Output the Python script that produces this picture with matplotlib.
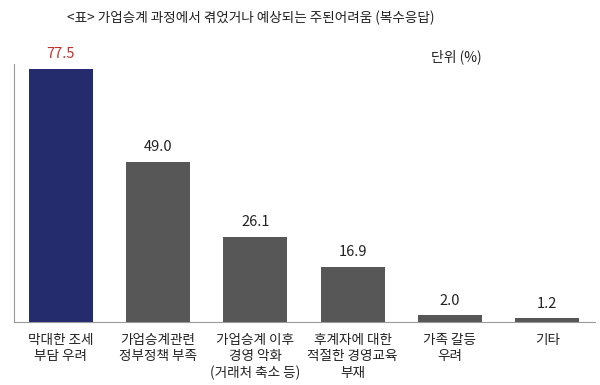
import matplotlib
matplotlib.use('Agg')
import matplotlib.pyplot as plt

plt.rcParams['font.family'] = ['Noto Sans CJK KR', 'DejaVu Sans']

# 데이터
categories = ['막대한 조세\n부담 우려', '가업승계관련\n정부정책 부족', '가업승계 이후\n경영 악화\n(거래처 축소 등)',
              '후계자에 대한\n적절한 경영교육\n부재', '가족 갈등\n우려', '기타']
values = [77.5, 49.0, 26.1, 16.9, 2.0, 1.2]
bar_colors = ['#252c6d', '#575757', '#575757', '#575757', '#575757', '#575757']
label_colors = ['#c4302b', '#222222', '#222222', '#222222', '#222222', '#222222']

fig = plt.figure(figsize=(6, 3.85), dpi=100)
ax = fig.add_axes([14/600, 1 - 322/385, (595 - 14)/600, (322 - 64)/385])

x = range(len(values))
ax.bar(x, values, width=0.66, color=bar_colors)

for i, v in enumerate(values):
    ax.text(i, v + 2.3, f'{v:.1f}', ha='center', va='bottom', fontsize=10.5, color=label_colors[i])

ax.set_xlim(-0.48, 5.49)
ax.set_ylim(0, 79)
ax.set_xticks(list(x))
ax.set_xticklabels(categories, fontsize=9.8, color='#222222', linespacing=1.2, va='top')
ax.tick_params(axis='x', length=0, pad=8)
ax.set_yticks([])

for s in ['top', 'right']:
    ax.spines[s].set_visible(False)
ax.spines['left'].set_color('#999999')
ax.spines['bottom'].set_color('#999999')

fig.text(251/600, 1 - 18/385, '<표> 가업승계 과정에서 겪었거나 예상되는 주된어려움 (복수응답)',
         ha='center', va='center', fontsize=9.8, color='#222222')
fig.text(456/600, 1 - 57/385, '단위 (%)', ha='center', va='center', fontsize=10, color='#222222')

plt.savefig('out.png', dpi=100)
